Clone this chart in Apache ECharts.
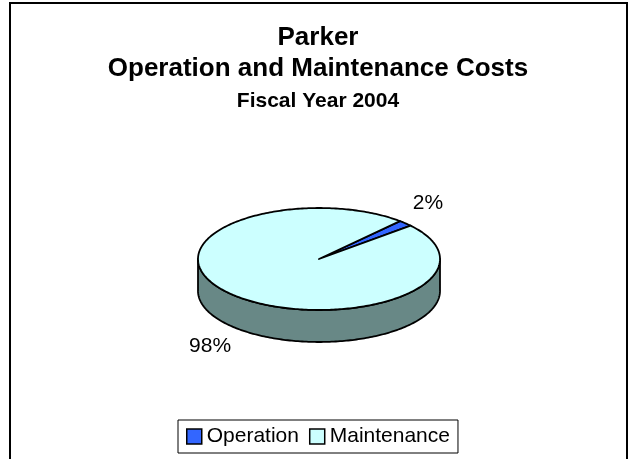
<!DOCTYPE html>
<html lang="en">
<head>
<meta charset="UTF-8">
<title>Parker Operation and Maintenance Costs</title>
<script src="https://cdn.jsdelivr.net/npm/echarts@6/dist/echarts.min.js"></script>
<style>
  html, body { margin: 0; padding: 0; background: #fff; }
  #main { width: 630px; height: 459px; }
</style>
</head>
<body>
<div id="main"></div>
<script>
var categories = ['Operation', 'Maintenance'];
var values = [2, 98];
var labels = ['2%', '98%'];

var topColors = ['#3366ff', '#ccffff'];
var sideColors = ['#1f3d99', '#688886'];
var font = "'Liberation Sans', Arial, sans-serif";

// pie geometry (3d look, flattened ellipse)
var cx = 319, cy = 259, rx = 121, ry = 51, depth = 32;
var startAngle = 42;

var total = values.reduce(function (a, b) { return a + b; }, 0);
var slices = [];
var acc = startAngle;
for (var i = 0; i < values.length; i++) {
  var span = values[i] / total * 360;
  slices.push([acc, acc + span]);
  acc += span;
}

function pt(deg, dy) {
  var r = deg * Math.PI / 180;
  return [cx + rx * Math.sin(r), cy - ry * Math.cos(r) + (dy || 0)];
}

function arc(a0, a1, dy) {
  var pts = [];
  var n = Math.max(2, Math.ceil(Math.abs(a1 - a0)));
  for (var k = 0; k <= n; k++) {
    pts.push(pt(a0 + (a1 - a0) * k / n, dy));
  }
  return pts;
}

function renderSlice(params, api) {
  var idx = params.seriesIndex;
  var s = slices[idx];
  var children = [];
  // front wall is visible between 90 and 270 deg
  for (var off = -360; off <= 360; off += 360) {
    var a = Math.max(s[0], 90 + off), b = Math.min(s[1], 270 + off);
    if (b > a) {
      var wall = arc(a, b, 0).concat(arc(a, b, depth).reverse());
      children.push({
        type: 'polygon', z2: 1,
        shape: { points: wall },
        style: { fill: sideColors[idx], stroke: '#000', lineWidth: 1.8, lineJoin: 'round' }
      });
    }
  }
  children.push({
    type: 'polygon', z2: 10,
    shape: { points: [[cx, cy]].concat(arc(s[0], s[1], 0)) },
    style: { fill: topColors[idx], stroke: '#000', lineWidth: 1.8, lineJoin: 'round' }
  });
  var mid = (s[0] + s[1]) / 2 * Math.PI / 180;
  var front = Math.cos(mid) < 0;
  children.push({
    type: 'text', z2: 20,
    style: {
      text: labels[idx],
      x: cx + rx * 1.26 * Math.sin(mid),
      y: cy - ry * 1.55 * Math.cos(mid) + (front ? depth : 0),
      align: 'center', verticalAlign: 'middle',
      fontFamily: font, fontSize: 21, fill: '#000'
    }
  });
  return { type: 'group', children: children };
}

var chart = echarts.init(document.getElementById('main'));
var option = {
  backgroundColor: '#fff',
  animation: false,
  color: topColors,
  title: [
    {
      text: 'Parker\nOperation and Maintenance Costs',
      left: 318, top: 22, textAlign: 'center', padding: 0,
      textStyle: { fontFamily: font, fontSize: 26, fontWeight: 'bold', color: '#000', lineHeight: 31 }
    },
    {
      text: 'Fiscal Year 2004',
      left: 318, top: 89, textAlign: 'center', padding: 0,
      textStyle: { fontFamily: font, fontSize: 21, fontWeight: 'bold', color: '#000', lineHeight: 24 }
    }
  ],
  legend: {
    data: categories,
    left: 178, top: 420,
    padding: [6, 8],
    itemWidth: 15, itemHeight: 15, itemGap: 10,
    icon: 'rect',
    borderColor: '#000', borderWidth: 1,
    backgroundColor: '#fff',
    itemStyle: { borderColor: '#000', borderWidth: 1.5 },
    textStyle: { fontFamily: font, fontSize: 21, color: '#000' }
  },
  graphic: [
    {
      type: 'rect', silent: true, z: -1,
      shape: { x: 10, y: 3, width: 617, height: 480 },
      style: { fill: 'none', stroke: '#000', lineWidth: 2 }
    }
  ],
  series: categories.map(function (name, i) {
    return {
      name: name,
      type: 'custom',
      coordinateSystem: 'none',
      itemStyle: { color: topColors[i] },
      renderItem: renderSlice,
      data: [[values[i]]]
    };
  })
};
chart.setOption(option);
</script>
</body>
</html>
